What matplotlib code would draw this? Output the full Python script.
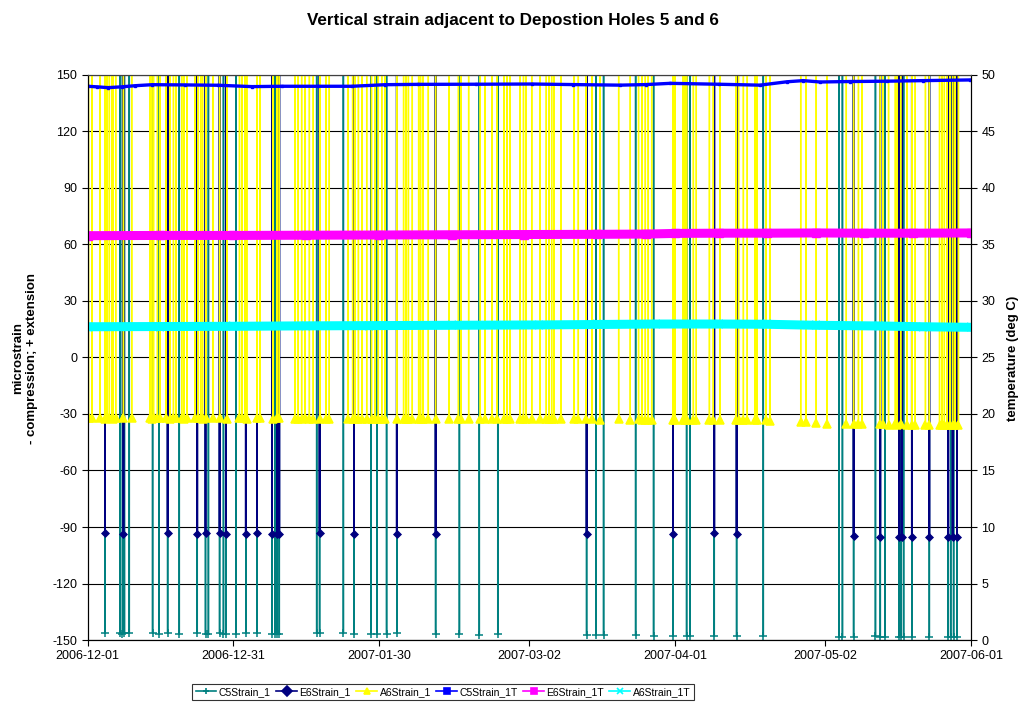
import numpy as np
import pandas as pd
import matplotlib
matplotlib.use("Agg")
import matplotlib.pyplot as plt

plt.rcParams["font.family"] = ["Liberation Sans", "DejaVu Sans"]
plt.rcParams["axes.unicode_minus"] = False

start = pd.Timestamp("2006-12-01")
OFF_SCALE = 999.0   # logger out-of-range reading, plotted off the chart
HOUR = 1.0 / 24.0

# valid strain readings (days after 2006-12-01, microstrain)
c5_days = [3.6, 6.7, 7.2, 7.6, 8.6, 13.4, 14.7, 16.5, 18.9, 22.6,
           24.3, 24.9, 27.2, 28.0, 28.5, 30.6, 32.6, 34.9, 38.0, 38.6,
           39.0, 39.5, 47.2, 47.8, 52.7, 54.9, 58.4, 59.6, 61.6, 63.7,
           71.7, 76.6, 80.7, 84.5, 102.8, 104.7, 106.3, 112.9, 116.6, 120.6,
           123.4, 124.1, 129.1, 133.7, 139.2, 154.8, 155.5, 157.8, 162.3, 163.3,
           164.3, 167.2, 167.6, 168.1, 169.8, 173.4, 177.3, 177.8, 178.4, 179.1]
c5_vals = [-146.2, -146.5, -146.6, -146.5, -146.4, -146.3, -146.8, -146.5, -146.6, -146.4,
           -146.9, -146.8, -146.5, -146.7, -146.8, -146.6, -146.5, -146.4, -146.7, -146.9,
           -146.8, -146.8, -146.3, -146.4, -146.5, -146.6, -146.6, -146.7, -146.7, -146.5,
           -146.9, -147.0, -147.2, -147.0, -147.4, -147.6, -147.6, -147.5, -147.7, -148.0,
           -148.0, -148.1, -147.9, -148.0, -148.1, -148.2, -148.3, -148.3, -148.1, -148.4,
           -148.3, -148.5, -148.5, -148.4, -148.4, -148.3, -148.5, -148.4, -148.5, -148.4]

e6_days = [3.6, 7.4, 16.5, 22.6, 24.3, 27.2, 28.5, 32.6, 34.9, 38.0,
           39.1, 39.5, 47.8, 54.9, 63.7, 71.7, 102.8, 120.6, 129.1, 133.7,
           157.8, 163.3, 167.2, 167.7, 169.8, 173.4, 177.3, 178.2, 179.1]
e6_vals = [-93.4, -93.8, -93.3, -93.6, -93.4, -93.3, -93.5, -93.5, -93.4, -93.6,
           -93.7, -93.7, -93.2, -93.6, -93.6, -93.7, -93.9, -93.6, -93.3, -93.5,
           -95.0, -95.3, -95.4, -95.3, -95.2, -95.1, -95.3, -95.3, -95.2]

a6_days = [0.2, 0.9, 2.6, 3.6, 4.0, 4.5, 5.0, 5.3, 5.8, 7.4,
           9.1, 12.9, 13.2, 13.6, 14.4, 14.9, 16.2, 17.0, 17.7, 18.2,
           19.4, 19.9, 20.5, 22.1, 22.8, 23.3, 23.7, 24.4, 25.8, 27.2,
           28.7, 31.3, 31.8, 32.4, 32.8, 34.9, 35.5, 38.2, 39.0, 39.5,
           42.7, 43.4, 44.1, 44.8, 45.7, 46.5, 47.9, 49.1, 49.8, 53.7,
           54.6, 55.1, 55.8, 56.5, 57.5, 58.5, 59.2, 59.9, 60.6, 61.3,
           63.7, 65.1, 65.6, 66.1, 66.9, 68.2, 68.6, 69.1, 70.2, 71.7,
           74.5, 76.4, 76.9, 78.5, 80.9, 81.9, 83.3, 84.3, 85.8, 86.4,
           87.0, 89.1, 89.8, 90.3, 91.5, 93.2, 94.5, 95.1, 95.6, 96.1,
           97.5, 100.2, 101.1, 102.7, 103.9, 105.6, 109.4, 111.8, 113.5, 114.2,
           114.9, 115.5, 116.2, 120.6, 121.0, 122.7, 123.1, 123.4, 124.8, 125.4,
           128.1, 128.9, 130.3, 133.6, 134.1, 135.1, 135.9, 137.5, 137.9, 139.8,
           140.6, 146.9, 148.0, 150.1, 152.3, 156.3, 157.8, 158.8, 159.5, 163.3,
           163.8, 165.0, 166.4, 166.8, 167.5, 168.8, 169.8, 170.5, 172.6, 173.4,
           175.5, 176.0, 176.5, 177.0, 177.7, 178.2, 178.7, 179.4]
a6_vals = [-32.2, -32.3, -32.2, -32.4, -32.3, -32.2, -32.3, -32.4, -32.3, -32.3,
           -32.2, -32.3, -32.4, -32.3, -32.2, -32.3, -32.3, -32.4, -32.3, -32.2,
           -32.3, -32.4, -32.3, -32.2, -32.3, -32.3, -32.4, -32.3, -32.2, -32.3,
           -32.4, -32.3, -32.3, -32.2, -32.4, -32.3, -32.3, -32.4, -32.3, -32.3,
           -32.4, -32.5, -32.4, -32.3, -32.5, -32.4, -32.4, -32.5, -32.4, -32.5,
           -32.5, -32.4, -32.6, -32.5, -32.5, -32.6, -32.5, -32.6, -32.5, -32.6,
           -32.6, -32.5, -32.6, -32.7, -32.6, -32.6, -32.7, -32.6, -32.6, -32.7,
           -32.6, -32.7, -32.7, -32.6, -32.7, -32.8, -32.7, -32.7, -32.8, -32.7,
           -32.8, -32.7, -32.8, -32.8, -32.7, -32.8, -32.9, -32.8, -32.8, -32.9,
           -32.8, -32.9, -32.9, -32.8, -32.9, -33.0, -32.9, -33.0, -32.9, -33.0,
           -33.0, -33.0, -33.1, -33.0, -33.1, -33.1, -33.0, -33.2, -33.1, -33.2,
           -33.2, -33.1, -33.3, -33.2, -33.3, -33.3, -33.2, -33.4, -33.3, -33.4,
           -33.5, -34.0, -34.3, -34.8, -35.1, -35.3, -35.4, -35.3, -35.5, -35.4,
           -35.5, -35.6, -35.5, -35.6, -35.5, -35.7, -35.6, -35.6, -35.7, -35.6,
           -35.7, -35.6, -35.8, -35.7, -35.7, -35.8, -35.7, -35.8]

# temperatures (deg C)
c5t_days = [0, 2, 4.2, 7, 9.8, 13.3, 20, 26.9, 33.9, 40, 47.5, 54.5, 61.3, 68.1, 80,
            91.6, 100, 109.7, 115, 120, 130, 138.5, 144.1, 147.4, 150.9, 157, 164.7, 172, 181.8]
c5t_vals = [49.0, 48.95, 48.88, 48.95, 49.05, 49.14, 49.12, 49.09, 48.97, 49.0, 49.0, 49.0, 49.14, 49.17, 49.18,
            49.2, 49.15, 49.1, 49.15, 49.26, 49.18, 49.1, 49.4, 49.5, 49.38, 49.42, 49.45, 49.5, 49.56]

e6t_days = [0, 15, 30, 45, 60, 75, 90, 105, 115, 121, 130, 140, 150, 160, 170, 182]
e6t_vals = [35.78, 35.8, 35.8, 35.82, 35.84, 35.86, 35.88, 35.9, 35.92, 35.98, 36.0, 36.0, 36.02, 36.0, 36.0, 36.02]

a6t_days = [0, 15, 30, 45, 58, 75, 93, 105, 117, 130, 140, 150, 163, 172, 182]
a6t_vals = [27.72, 27.74, 27.76, 27.8, 27.82, 27.85, 27.88, 27.92, 27.96, 27.96, 27.94, 27.85, 27.79, 27.72, 27.67]

tick_dates = ["2006-12-01", "2006-12-31", "2007-01-30", "2007-03-02",
              "2007-04-01", "2007-05-02", "2007-06-01"]


def to_dates(days):
    return start + pd.to_timedelta(np.asarray(days, dtype=float), unit="D")


def spike_series(days, vals):
    # each valid reading sits between out-of-range readings an hour either side
    x, y = [], []
    for d, v in zip(days, vals):
        x += [d - HOUR, d, d + HOUR]
        y += [OFF_SCALE, v, OFF_SCALE]
    return to_dates(x), np.array(y), list(range(1, len(x), 3))


fig = plt.figure(figsize=(10.25, 7.04), dpi=100)
ax = fig.add_axes([0.0854, 0.0909, 0.862, 0.8026])

handles = []
for days, vals, color, marker, ms, lw, label in [
        (c5_days, c5_vals, "#008080", "+", 5.5, 1.1, "C5Strain_1"),
        (e6_days, e6_vals, "#000080", "D", 3.5, 1.3, "E6Strain_1"),
        (a6_days, a6_vals, "#FFFF00", "^", 6, 1.0, "A6Strain_1")]:
    x, y, mk = spike_series(days, vals)
    h, = ax.plot(x, y, color=color, lw=lw, marker=marker, ms=ms, mew=1.1,
                 markevery=mk, label=label)
    handles.append(h)

ax.set_ylim(-150, 150)
ax.set_yticks(np.arange(-150, 151, 30))
ax.set_xlim(start, start + pd.Timedelta(days=182))
ax.set_xticks(pd.to_datetime(tick_dates))
ax.set_xticklabels(tick_dates)
ax.grid(axis="y", color="black", lw=0.8)
ax.set_axisbelow(True)
ax.tick_params(direction="out", length=4, labelsize=9)
ax.spines["top"].set_color("#404040")

ax2 = ax.twinx()
h, = ax2.plot(to_dates(c5t_days), c5t_vals, color="#0000FF", lw=2.4,
              marker="s", ms=2, label="C5Strain_1T")
handles.append(h)
h, = ax2.plot(to_dates(e6t_days), e6t_vals, color="#FF00FF", lw=6.5,
              marker="s", ms=5.5, label="E6Strain_1T")
handles.append(h)
h, = ax2.plot(to_dates(a6t_days), a6t_vals, color="#00FFFF", lw=6.5,
              marker="x", ms=5.5, mew=1.5, label="A6Strain_1T")
handles.append(h)
ax2.set_ylim(0, 50)
ax2.set_yticks(np.arange(0, 51, 5))
ax2.tick_params(direction="out", length=4, labelsize=9)
ax2.spines["top"].set_color("#404040")

fig.text(0.5, 1 - 20 / 704, "Vertical strain adjacent to Depostion Holes 5 and 6",
         ha="center", va="center", fontsize=12.3, fontweight="bold")
fig.text(25 / 1025, 1 - 358 / 704, "microstrain\n- compression; + extension",
         rotation=90, ha="center", va="center", multialignment="center",
         fontsize=9.5, fontweight="bold")
fig.text(1013 / 1025, 1 - 358 / 704, "temperature (deg C)",
         rotation=90, ha="center", va="center", fontsize=9.5, fontweight="bold")

leg_handles = [plt.Line2D([], [], color=h.get_color(), lw=1.2, marker=h.get_marker(),
                          ms=5, mew=1.2) for h in handles]
leg = fig.legend(leg_handles, [h.get_label() for h in handles], loc="center",
                 bbox_to_anchor=(443 / 1025, 1 - 692 / 704), ncol=6, fontsize=7.5,
                 frameon=True, fancybox=False, edgecolor="black", borderpad=0.3,
                 handlelength=2.0, handletextpad=0.25, columnspacing=0.5)
leg.get_frame().set_linewidth(0.8)

fig.savefig("out.png", dpi=100)
